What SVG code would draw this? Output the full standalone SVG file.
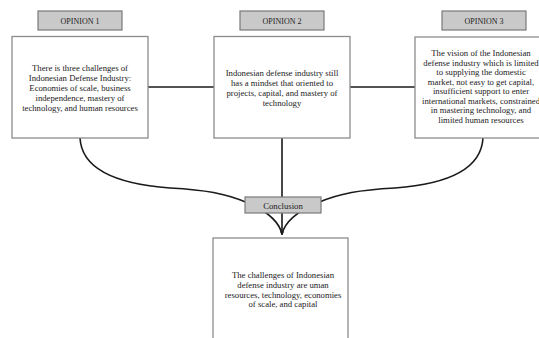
<svg xmlns="http://www.w3.org/2000/svg" width="539" height="338" viewBox="0 0 539 338">
<style>
.box{fill:#fff;stroke:#8c8c8c;stroke-width:1.3}
.lab{fill:#c9c9c9;stroke:#7a7a7a;stroke-width:1.2}
.t{font-family:"Liberation Serif","DejaVu Serif",serif;font-size:8.7px;fill:#222;text-anchor:middle}
.lt{font-family:"Liberation Serif","DejaVu Serif",serif;font-size:8px;fill:#222;text-anchor:middle}
.c{fill:none;stroke:#1a1a1a;stroke-width:1.6}
</style>
<defs>
<marker id="arr" viewBox="0 0 10 10" refX="9" refY="5" markerWidth="4" markerHeight="4" orient="auto" markerUnits="userSpaceOnUse">
<path d="M0,0 L10,5 L0,10 z" fill="#1a1a1a"/>
</marker>
</defs>
<rect width="539" height="338" fill="#fff"/>
<g id="connectors">
<path class="c" d="M148,87 H214"/>
<path class="c" d="M350,87 H415"/>
<path class="c" d="M80,138 C82,175 130,185 170,188 C205,190 225,193 248,203 C262,209 278,218 282,234"/>
<path class="c" d="M483,138 C481,175 435,185 395,188 C360,190 340,193 317,203 C303,209 286,218 282,234"/>
<path class="c" d="M282,138 V235" marker-end="url(#arr)"/>
</g>
<g id="opinion1-label">
<rect class="lab" x="38" y="11" width="84" height="19"/>
<text class="lt" x="80" y="23.5">OPINION 1</text>
</g>
<g id="opinion2-label">
<rect class="lab" x="240" y="11" width="84" height="19"/>
<text class="lt" x="282" y="23.5">OPINION 2</text>
</g>
<g id="opinion3-label">
<rect class="lab" x="442" y="11" width="84" height="19"/>
<text class="lt" x="484" y="23.5">OPINION 3</text>
</g>
<g id="opinion1">
<rect class="box" x="12" y="36.5" width="136" height="101.5"/>
<text class="t" x="80" y="71">There is three challenges of</text>
<text class="t" x="80" y="81">Indonesian Defense Industry:</text>
<text class="t" x="80" y="91">Economies of scale, business</text>
<text class="t" x="80" y="101">independence, mastery of</text>
<text class="t" x="80" y="111">technology, and human resources</text>
</g>
<g id="opinion2">
<rect class="box" x="214" y="36.5" width="136" height="101.5"/>
<text class="t" x="282" y="76">Indonesian defense industry still</text>
<text class="t" x="282" y="86">has a mindset that oriented to</text>
<text class="t" x="282" y="96">projects, capital, and mastery of</text>
<text class="t" x="282" y="106">technology</text>
</g>
<g id="opinion3">
<rect class="box" x="415" y="37" width="136" height="101"/>
<text class="t" x="481" y="56">The vision of the Indonesian</text>
<text class="t" x="481" y="65.5">defense industry which is limited</text>
<text class="t" x="481" y="75">to supplying the domestic</text>
<text class="t" x="481" y="84.5">market, not easy to get capital,</text>
<text class="t" x="481" y="94">insufficient support to enter</text>
<text class="t" x="481" y="103.5">international markets, constrained</text>
<text class="t" x="481" y="113">in mastering technology, and</text>
<text class="t" x="481" y="122.5">limited human resources</text>
</g>
<g id="conclusion-label">
<rect class="lab" x="245" y="197" width="76" height="16"/>
<text class="t" x="283" y="208.5">Conclusion</text>
</g>
<g id="conclusion">
<rect class="box" x="213" y="238" width="135" height="110"/>
<text class="t" x="283" y="278">The challenges of Indonesian</text>
<text class="t" x="283" y="288">defense industry are uman</text>
<text class="t" x="283" y="297.5">resources, technology, economies</text>
<text class="t" x="283" y="307">of scale, and capital</text>
</g>
</svg>
